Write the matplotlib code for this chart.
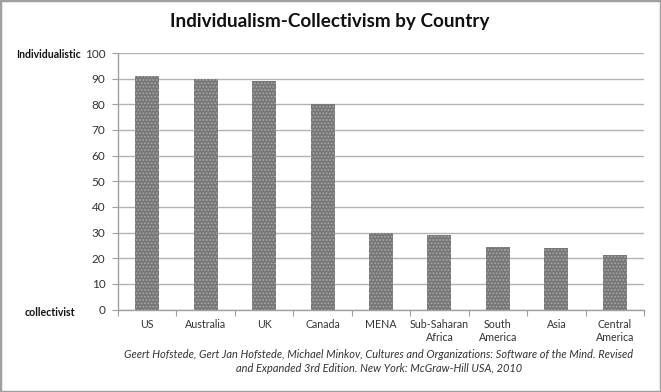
import matplotlib
matplotlib.use('Agg')
import matplotlib.pyplot as plt
from matplotlib.patches import Rectangle

regions = ['US', 'Australia', 'UK', 'Canada', 'MENA', 'Sub-Saharan\nAfrica',
           'South\nAmerica', 'Asia', 'Central\nAmerica']
scores = [91, 90, 89, 80, 30, 29.2, 24.5, 23.8, 21.4]
y_ticks = [0, 10, 20, 30, 40, 50, 60, 70, 80, 90, 100]

plt.rcParams['font.family'] = ['Lato', 'DejaVu Sans']
plt.rcParams['hatch.color'] = '#a8a8a8'
plt.rcParams['hatch.linewidth'] = 0.8

fig = plt.figure(figsize=(6.61, 3.92), dpi=100)
ax = fig.add_axes([118 / 661, 1 - 309.5 / 392, 526 / 661, 256.5 / 392])

x = list(range(len(regions)))
ax.bar(x, scores, width=0.41, color='#777777', edgecolor='#a8a8a8',
       hatch='.....', linewidth=0, zorder=3)

ax.set_xlim(-0.5, len(regions) - 0.5)
ax.set_ylim(0, 100)
ax.set_yticks(y_ticks)
ax.yaxis.grid(True, color='#b3b3b3', linewidth=1, zorder=0)
ax.set_axisbelow(True)

# category labels sit between the tick marks
ax.set_xticks([i + 0.5 for i in x[:-1]] + [-0.5, len(regions) - 0.5])
ax.set_xticklabels([])
ax.set_xticks(x, minor=True)
ax.set_xticklabels(regions, minor=True, fontsize=7.7, color='#333333')
ax.tick_params(axis='x', which='minor', length=0, pad=7)
ax.tick_params(axis='x', which='major', length=4, color='#a0a0a0', direction='out')
ax.tick_params(axis='y', length=4, color='#a0a0a0', labelsize=8.5,
               labelcolor='#333333', pad=5)

for side in ['top', 'right']:
    ax.spines[side].set_visible(False)
for side in ['left', 'bottom']:
    ax.spines[side].set_color('#a0a0a0')
    ax.spines[side].set_linewidth(1)

fig.text(330 / 661, 1 - 22 / 392, 'Individualism-Collectivism by Country',
         ha='center', va='center', fontsize=13.6, fontweight='bold', color='#111111')
fig.text(16 / 661, 1 - 55 / 392, 'Individualistic', ha='left', va='center',
         fontsize=7.6, fontweight='bold', color='#111111')
fig.text(25 / 661, 1 - 312 / 392, 'collectivist', ha='left', va='center',
         fontsize=7.6, fontweight='bold', color='#111111')
fig.text(379 / 661, 1 - 349 / 392,
         'Geert Hofstede, Gert Jan Hofstede, Michael Minkov, Cultures and Organizations: '
         'Software of the Mind. Revised\nand Expanded 3rd Edition. New York: '
         'McGraw-Hill USA, 2010',
         ha='center', va='top', fontsize=7.9, style='italic', color='#333333',
         linespacing=1.35, multialignment='center')

fig.patches.append(Rectangle((0, 0), 1, 1, transform=fig.transFigure, fill=False,
                             edgecolor='#a0a0a0', linewidth=2.5))

fig.savefig('out.png', dpi=100)
